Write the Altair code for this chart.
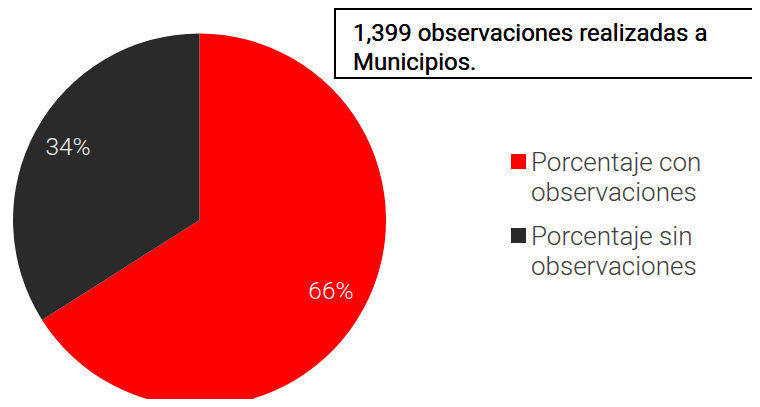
import altair as alt
import pandas as pd

# ---- data ----
categories = ["Porcentaje con observaciones", "Porcentaje sin observaciones"]
legend_labels = ["Porcentaje con\nobservaciones", "Porcentaje sin\nobservaciones"]
values = [66, 34]
pct_labels = ["66%", "34%"]
order_idx = [0, 1]
colors = ["#FF0000", "#2A2A2A"]
note_lines = ["1,399 observaciones realizadas a", "Municipios."]

df = pd.DataFrame({
    "cat": categories,
    "legend": legend_labels,
    "value": values,
    "pct": pct_labels,
    "idx": order_idx,
})

W, H = 744, 391
CX, CY, R = 191.5, 212, 186.5

color_scale = alt.Scale(domain=categories, range=colors)

base = alt.Chart(df).encode(
    theta=alt.Theta("value:Q", stack=True),
    order=alt.Order("idx:Q"),
)

pie = base.mark_arc(radius=R, stroke=None).encode(
    x=alt.value(CX), y=alt.value(CY),
    color=alt.Color("cat:N", scale=color_scale, legend=None),
)

pie_text = base.mark_text(
    radius=150, fontSize=24.5, font="Roboto", fontWeight=300,
    color="#F2F2F2", baseline="middle", align="center",
).encode(
    x=alt.value(CX), y=alt.value(CY),
    text="pct:N",
)

legend_y = alt.Y("idx:Q", scale=alt.Scale(domain=[0, 1], range=[153.5, 227.5]), axis=None)

leg_sym = alt.Chart(df).mark_square(size=225, opacity=1, strokeWidth=0).encode(
    x=alt.value(510.5),
    y=legend_y,
    color=alt.Color("cat:N", scale=color_scale, legend=None),
)

leg_txt = alt.Chart(df).mark_text(
    align="left", baseline="alphabetic", dy=9, fontSize=26, font="Roboto",
    fontWeight=300, color="#404040", lineHeight=30, lineBreak="\n",
).encode(
    x=alt.value(523),
    y=legend_y,
    text="legend:N",
)

box = alt.Chart(df).mark_rect(fill="white", stroke="black", strokeWidth=2).encode(
    x=alt.value(327), x2=alt.value(800), y=alt.value(1), y2=alt.value(70),
)

note = alt.Chart(df).mark_text(
    align="left", baseline="alphabetic", fontSize=24, font="Roboto",
    fontWeight=400, color="black", lineHeight=29, text=note_lines,
).encode(
    x=alt.value(345), y=alt.value(32.5),
)

chart = alt.layer(pie, pie_text, leg_sym, leg_txt, box, note).properties(
    width=W, height=H, autosize=alt.AutoSizeParams(type="none"), padding=0,
).configure_view(stroke=None)

chart.save("out.html", embed_options={"renderer": "svg", "actions": False})
